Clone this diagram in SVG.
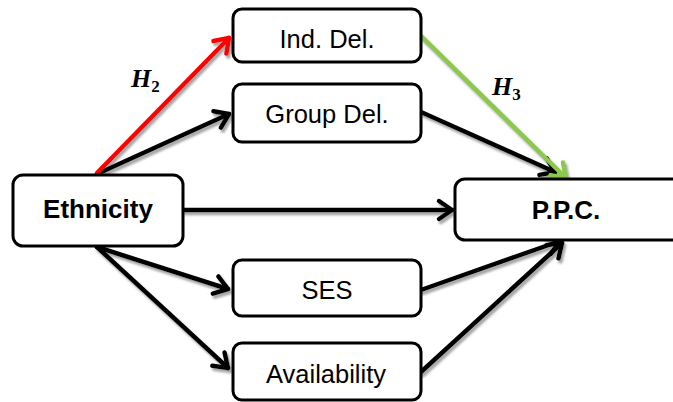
<svg xmlns="http://www.w3.org/2000/svg" width="673" height="402" viewBox="0 0 673 402">
  <style>
    .box { fill: #ffffff; stroke: #000000; stroke-width: 3; }
    .lbl { font-family: "Liberation Sans", Arial, sans-serif; font-size: 25.5px; fill: #000000; text-anchor: middle; }
    .bold { font-weight: bold; font-size: 26px; }
    .hyp { font-family: "Liberation Serif", "Times New Roman", serif; font-weight: bold; font-style: italic; font-size: 26px; fill: #000000; }
    .sub { font-size: 17px; font-style: normal; }
    .edge { fill: none; stroke-width: 4.5; stroke-linecap: round; }
    .k { stroke: #000000; }
    .r { stroke: #ff0000; }
    .g { stroke: #8cc84b; }
  </style>
  <defs>
    <filter id="shadow" x="-10%" y="-10%" width="130%" height="130%">
      <feDropShadow dx="2" dy="3" stdDeviation="1" flood-color="#808080" flood-opacity="0.7"/>
    </filter>
    <marker id="ah-k" markerUnits="userSpaceOnUse" viewBox="-18 -12 22 24" refX="0" refY="0" markerWidth="22" markerHeight="24" orient="auto" overflow="visible">
      <path d="M-13,-9 L0,0 L-13,9" fill="none" stroke="#000000" stroke-width="4.5" stroke-linecap="round" stroke-linejoin="round"/>
    </marker>
    <marker id="ah-r" markerUnits="userSpaceOnUse" viewBox="-18 -12 22 24" refX="0" refY="0" markerWidth="22" markerHeight="24" orient="auto" overflow="visible">
      <path d="M-13,-9 L0,0 L-13,9" fill="none" stroke="#ff0000" stroke-width="4.5" stroke-linecap="round" stroke-linejoin="round"/>
    </marker>
    <marker id="ah-g" markerUnits="userSpaceOnUse" viewBox="-18 -12 22 24" refX="0" refY="0" markerWidth="22" markerHeight="24" orient="auto" overflow="visible">
      <path d="M-13,-9 L0,0 L-13,9" fill="none" stroke="#8cc84b" stroke-width="4.5" stroke-linecap="round" stroke-linejoin="round"/>
    </marker>
  </defs>

  <!-- connectors -->
  <g id="connectors" filter="url(#shadow)">
    <line class="edge k" x1="97" y1="174" x2="229" y2="114" marker-end="url(#ah-k)"/>
    <line class="edge k" x1="421" y1="112" x2="555" y2="172" marker-end="url(#ah-k)"/>
    <line class="edge k" x1="183" y1="210" x2="452" y2="210" marker-end="url(#ah-k)"/>
    <line class="edge k" x1="97" y1="247" x2="228" y2="289" marker-end="url(#ah-k)"/>
    <line class="edge k" x1="97" y1="247" x2="228" y2="368" marker-end="url(#ah-k)"/>
    <line class="edge k" x1="421" y1="290" x2="560" y2="241" marker-end="url(#ah-k)"/>
    <line class="edge k" x1="421" y1="372" x2="562" y2="243" marker-end="url(#ah-k)"/>
    <line class="edge r" x1="97" y1="173" x2="229" y2="38" marker-end="url(#ah-r)"/>
    <line class="edge g" x1="420" y1="35" x2="566" y2="178" marker-end="url(#ah-g)"/>
  </g>

  <!-- nodes -->
  <g id="ind-del">
    <rect class="box" x="233" y="9" width="188" height="53" rx="9"/>
    <text class="lbl" x="327" y="48">Ind. Del.</text>
  </g>
  <g id="group-del">
    <rect class="box" x="233" y="84" width="188" height="58" rx="9"/>
    <text class="lbl" x="327" y="123">Group Del.</text>
  </g>
  <g id="ethnicity">
    <rect class="box" x="13" y="175" width="170" height="71" rx="10"/>
    <text class="lbl bold" x="98" y="218">Ethnicity</text>
  </g>
  <g id="ppc">
    <rect class="box" x="455" y="179" width="240" height="61" rx="10"/>
    <text class="lbl bold" x="566" y="219">P.P.C.</text>
  </g>
  <g id="ses">
    <rect class="box" x="233" y="260" width="188" height="56" rx="9"/>
    <text class="lbl" x="327" y="299">SES</text>
  </g>
  <g id="availability">
    <rect class="box" x="233" y="343" width="188" height="57" rx="9"/>
    <text class="lbl" x="326" y="383">Availability</text>
  </g>

  <!-- hypothesis labels -->
  <g id="h2">
    <text class="hyp" x="131" y="87">H<tspan class="sub" dy="5">2</tspan></text>
  </g>
  <g id="h3">
    <text class="hyp" x="492" y="95">H<tspan class="sub" dy="5">3</tspan></text>
  </g>
</svg>
